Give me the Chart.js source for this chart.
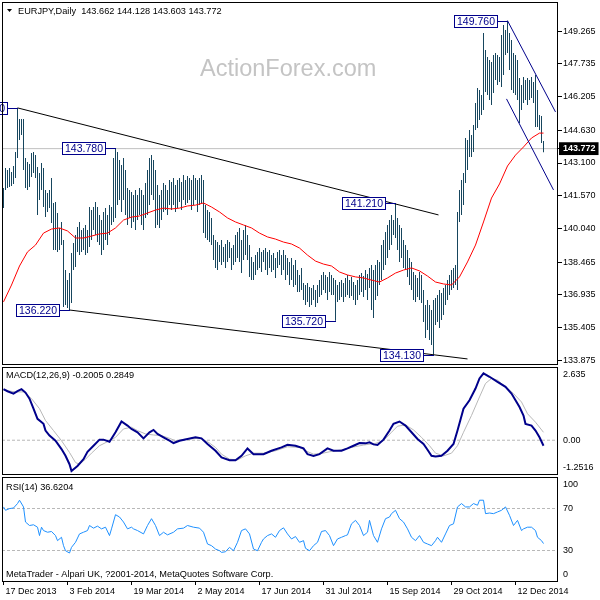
<!DOCTYPE html>
<html>
<head>
<meta charset="utf-8">
<title>EURJPY Daily</title>
<script src="https://cdn.jsdelivr.net/npm/chart.js@4.4.1/dist/chart.umd.min.js"></script>
<style>
  body { margin: 0; background: #fff; }
  #wrap { position: relative; width: 600px; height: 600px; overflow: hidden; }
  canvas { position: absolute; left: 0; }
</style>
</head>
<body>
<div id="wrap">
  <canvas id="priceChart" width="600" height="366" style="top:0"></canvas>
  <canvas id="macdChart" width="600" height="110" style="top:366px"></canvas>
  <canvas id="rsiChart" width="600" height="124" style="top:476px"></canvas>
</div>
<script>
// daily bars, one entry per bar (high / low)
const highs = [
  141.93, 142.87, 142.77, 142.87, 142.68, 142.96, 143.62, 145.68, 145.16, 145.16,
  145.16, 143.33, 143.15, 143.05, 143.57, 143.62, 143.48, 142.91, 142.63, 143.10,
  142.87, 141.84, 141.70, 141.84, 142.40, 141.23, 141.28, 140.76, 140.06, 140.34,
  139.50, 138.09, 137.63, 137.95, 138.89, 139.36, 139.73, 140.11, 140.34, 139.97,
  140.06, 140.20, 139.97, 141.04, 140.90, 141.04, 141.28, 141.04, 140.67, 140.43,
  140.81, 140.99, 140.67, 141.14, 141.04, 143.33, 143.78, 143.62, 143.24, 143.01,
  143.33, 142.77, 141.93, 141.84, 141.74, 141.60, 141.84, 141.60, 141.93, 141.84,
  141.60, 142.17, 142.77, 143.33, 143.48, 143.24, 142.77, 142.07, 141.60, 141.84,
  142.17, 142.07, 141.84, 142.31, 142.21, 142.40, 142.07, 142.31, 142.40, 142.21,
  142.54, 142.31, 142.49, 142.40, 142.31, 142.54, 142.40, 142.31, 142.40, 142.54,
  142.31, 141.14, 140.90, 140.81, 140.53, 139.73, 139.50, 139.40, 139.26, 139.50,
  139.17, 139.31, 139.50, 139.40, 139.12, 139.26, 139.73, 139.87, 140.06, 139.50,
  139.97, 140.20, 139.73, 139.26, 138.70, 138.47, 138.80, 138.94, 139.12, 138.94,
  139.03, 139.12, 138.94, 139.03, 138.80, 138.89, 138.66, 138.94, 139.03, 138.80,
  139.03, 138.80, 138.66, 138.47, 138.66, 138.33, 138.56, 138.09, 137.86, 138.19,
  137.49, 137.39, 137.49, 137.30, 137.25, 137.39, 137.16, 137.39, 137.63, 137.86,
  138.00, 137.86, 137.77, 138.00, 137.86, 137.72, 137.63, 137.39, 137.53, 137.63,
  137.49, 137.72, 137.86, 137.63, 137.77, 137.53, 137.39, 137.63, 137.86, 137.95,
  137.81, 138.09, 137.91, 138.19, 138.33, 138.09, 138.33, 138.56, 138.47, 139.26,
  139.50, 139.87, 140.20, 140.43, 140.67, 140.43, 141.21, 140.53, 140.20, 140.06,
  139.50, 139.26, 139.03, 138.66, 138.47, 138.00, 137.86, 137.72, 138.00, 137.86,
  137.16, 136.46, 136.69, 136.46, 136.22, 136.69, 136.78, 136.92, 137.16, 137.02,
  137.25, 137.39, 137.63, 137.86, 138.09, 138.19, 138.33, 140.81, 141.84, 142.31,
  142.63, 144.27, 144.18, 144.65, 144.41, 144.88, 145.91, 146.61, 146.52, 146.28,
  149.19, 148.39, 148.06, 147.92, 147.83, 148.16, 148.25, 148.16, 148.06, 149.09,
  149.56, 149.33, 149.76, 149.19, 148.86, 148.25, 148.16, 147.92, 147.08, 146.75,
  147.13, 146.99, 147.08, 146.99, 147.13, 146.89, 147.22, 146.52, 145.35, 145.30,
  144.128
];
const lows = [
  140.99, 141.84, 141.93, 141.98, 142.02, 142.12, 142.40, 143.33, 144.18, 144.41,
  142.77, 141.93, 141.84, 141.98, 142.45, 142.63, 142.40, 140.67, 141.37, 141.84,
  141.04, 140.57, 140.81, 140.99, 140.29, 139.03, 139.03, 138.94, 139.03, 139.26,
  136.36, 136.46, 136.32, 136.22, 136.55, 138.09, 138.23, 138.94, 138.80, 138.94,
  139.03, 138.80, 138.89, 139.17, 139.50, 139.97, 139.73, 139.40, 139.26, 138.80,
  139.03, 139.50, 139.26, 139.73, 140.20, 140.34, 140.53, 141.14, 141.37, 140.81,
  141.37, 140.67, 140.20, 140.53, 140.06, 140.34, 139.97, 140.43, 140.67, 140.20,
  139.97, 140.53, 140.67, 141.14, 141.60, 141.37, 140.06, 140.20, 140.06, 140.43,
  140.81, 140.90, 140.67, 141.14, 140.90, 141.14, 140.81, 140.99, 141.28, 140.90,
  141.37, 141.14, 141.23, 141.37, 140.90, 141.14, 141.37, 140.81, 141.14, 141.23,
  139.82, 139.59, 139.50, 139.40, 139.26, 138.56, 138.19, 138.09, 138.47, 138.33,
  138.47, 138.19, 138.47, 138.66, 138.09, 138.33, 138.47, 138.66, 138.47, 137.95,
  138.56, 138.80, 138.56, 137.77, 137.63, 137.63, 137.86, 138.09, 138.19, 138.00,
  138.47, 138.09, 137.86, 138.19, 138.00, 138.09, 137.72, 138.19, 138.33, 137.86,
  138.09, 137.63, 137.86, 137.39, 137.63, 137.30, 137.39, 137.06, 137.06, 137.16,
  136.69, 136.46, 136.60, 136.36, 136.46, 136.69, 136.36, 136.55, 136.83, 136.92,
  137.16, 137.02, 136.69, 137.06, 136.92, 136.92, 135.72, 136.60, 136.69, 136.83,
  136.60, 136.83, 136.92, 136.78, 136.88, 136.69, 136.46, 136.69, 136.92, 137.06,
  136.83, 137.16, 136.69, 137.25, 136.22, 135.85, 136.69, 136.88, 137.39, 137.63,
  138.09, 138.33, 138.66, 139.03, 139.26, 139.73, 139.59, 139.03, 138.47, 138.66,
  138.19, 138.09, 137.77, 137.39, 137.16, 136.69, 136.60, 136.83, 136.69, 136.55,
  135.66, 134.91, 135.29, 134.82, 134.58, 134.13, 135.52, 135.66, 135.38, 135.75,
  135.99, 136.46, 136.69, 136.92, 137.16, 137.25, 137.39, 137.16, 140.34, 140.67,
  141.14, 142.17, 142.77, 143.38, 143.38, 143.62, 144.65, 144.74, 145.11, 145.35,
  145.58, 146.42, 146.28, 146.05, 145.82, 146.38, 146.99, 146.75, 146.89, 146.66,
  147.22, 148.16, 148.25, 147.45, 146.52, 146.38, 146.28, 146.05, 144.97, 145.58,
  145.91, 146.05, 145.82, 146.05, 146.14, 145.91, 144.79, 144.79, 144.65, 144.04,
  143.603
];
const lastBar = [143.662, 144.128, 143.603, 143.772]; // open high low close

// red moving average, [bar, value]
const maLine = [
  [0, 136.60], [4, 137.39], [8, 138.28], [12, 138.94], [16, 139.26], [20, 139.82], [24, 140.01],
  [28, 140.06], [32, 139.92], [36, 139.59], [40, 139.59], [44, 139.68], [48, 139.78], [52, 139.82],
  [56, 140.06], [60, 140.43], [64, 140.57], [68, 140.62], [72, 140.76], [76, 140.90], [80, 140.99],
  [84, 140.95], [88, 140.99], [92, 141.09], [96, 141.13], [100, 141.23], [104, 141.04], [108, 140.81],
  [112, 140.53], [116, 140.34], [120, 140.20], [124, 140.06], [128, 139.82], [132, 139.64], [136, 139.54],
  [140, 139.40], [144, 139.31], [148, 139.12], [152, 138.79], [156, 138.51], [160, 138.37], [164, 138.28],
  [168, 138.00], [172, 137.86], [176, 137.77], [180, 137.72], [184, 137.62], [188, 137.53], [192, 137.72],
  [196, 137.95], [200, 138.09], [204, 138.19], [208, 138.05], [212, 137.81], [216, 137.53], [220, 137.44],
  [224, 137.39], [228, 137.77], [232, 138.47], [236, 139.26], [240, 140.34], [244, 141.46], [248, 142.12],
  [252, 142.96], [256, 143.47], [260, 143.85], [264, 144.27], [268, 144.50], [270, 144.50]
];

// MACD(12,26,9) main and signal, [bar, value]
const macdLine = [
  [0, 1.836], [2, 1.763], [5, 1.678], [7, 1.763], [9, 1.836], [11, 1.715], [13, 1.497], [15, 1.134],
  [17, 0.770], [20, 0.589], [21, 0.347], [23, 0.165], [26, -0.017], [29, -0.319], [31, -0.562],
  [33, -0.864], [34, -1.106], [37, -0.925], [40, -0.683], [42, -0.416], [45, -0.198], [48, 0.020],
  [50, 0.020], [53, -0.053], [56, 0.286], [59, 0.673], [62, 0.528], [64, 0.407], [67, 0.286],
  [70, 0.068], [73, 0.286], [75, 0.371], [77, 0.226], [80, 0.104], [83, -0.017], [85, -0.101],
  [88, -0.017], [92, 0.044], [96, 0.104], [99, 0.068], [102, -0.137], [106, -0.380], [109, -0.622],
  [113, -0.719], [116, -0.719], [119, -0.562], [122, -0.295], [125, -0.501], [130, -0.501], [134, -0.380],
  [139, -0.259], [142, -0.162], [146, -0.198], [150, -0.295], [152, -0.501], [155, -0.562], [158, -0.501],
  [162, -0.295], [165, -0.380], [169, -0.380], [172, -0.295], [175, -0.198], [178, -0.101], [181, -0.113],
  [183, -0.077], [185, -0.149], [187, -0.174], [190, 0.020], [193, 0.347], [195, 0.589], [198, 0.673],
  [201, 0.528], [204, 0.286], [207, 0.044], [210, -0.137], [212, -0.344], [214, -0.562], [216, -0.586],
  [219, -0.562], [222, -0.380], [225, -0.137], [227, 0.347], [230, 1.134], [233, 1.436], [236, 1.860],
  [238, 2.223], [240, 2.405], [243, 2.284], [247, 2.102], [251, 1.921], [254, 1.678], [256, 1.436],
  [258, 1.194], [260, 0.891], [261, 0.589], [264, 0.528], [266, 0.347], [268, 0.104], [270, -0.2005]
];
const signalLine = [
  [0, 1.800], [6, 1.739], [10, 1.739], [14, 1.497], [18, 1.134], [21, 0.710], [25, 0.347], [29, -0.017],
  [33, -0.441], [36, -0.804], [38, -0.864], [41, -0.683], [44, -0.465], [48, -0.198], [52, -0.053],
  [56, 0.104], [60, 0.407], [64, 0.468], [67, 0.347], [71, 0.226], [75, 0.189], [79, 0.165], [83, 0.068],
  [86, -0.017], [92, 0.044], [98, 0.068], [102, -0.053], [106, -0.259], [109, -0.501], [113, -0.683],
  [117, -0.707], [121, -0.562], [125, -0.465], [130, -0.465], [136, -0.380], [142, -0.235], [148, -0.259],
  [151, -0.380], [155, -0.501], [159, -0.477], [163, -0.416], [169, -0.344], [174, -0.259], [180, -0.174],
  [186, -0.113], [190, -0.017], [194, 0.286], [197, 0.504], [201, 0.552], [205, 0.371], [209, 0.104],
  [213, -0.198], [216, -0.465], [220, -0.562], [224, -0.465], [227, -0.198], [230, 0.286], [234, 0.891],
  [238, 1.557], [241, 2.042], [244, 2.223], [247, 2.163], [251, 1.921], [255, 1.678], [259, 1.376],
  [262, 0.952], [266, 0.649], [270, 0.2849]
];
const macdNow = [-0.2005, 0.2849];

// RSI(14), [bar, value]
const rsiLine = [
  [0, 71.5], [1, 68.3], [3, 69.9], [5, 70.5], [7, 74.7], [8, 77.9], [10, 71.5], [11, 57.1], [13, 53.8],
  [15, 54.5], [17, 52.2], [18, 44.2], [19, 52.2], [20, 49.0], [22, 47.4], [24, 48.1], [26, 44.2],
  [27, 39.4], [29, 42.6], [30, 34.6], [31, 29.8], [33, 27.6], [34, 33.0], [36, 37.8], [38, 45.8],
  [40, 47.4], [42, 49.0], [43, 53.8], [45, 51.3], [47, 53.2], [49, 50.6], [51, 52.2], [53, 44.2],
  [54, 50.6], [56, 64.1], [58, 61.9], [60, 57.1], [62, 50.6], [64, 52.2], [65, 50.6], [67, 49.0],
  [70, 45.8], [72, 53.8], [74, 60.3], [76, 53.8], [78, 44.2], [80, 47.4], [82, 44.9], [85, 47.4],
  [87, 50.6], [90, 51.3], [92, 53.8], [95, 52.2], [98, 51.3], [100, 47.4], [102, 36.2], [104, 34.6],
  [106, 31.4], [108, 29.8], [109, 28.2], [111, 28.8], [113, 33.0], [115, 29.8], [117, 37.8], [119, 49.0],
  [121, 50.6], [123, 45.8], [125, 31.4], [127, 29.8], [129, 37.8], [130, 41.0], [132, 44.2], [134, 45.8],
  [136, 42.6], [138, 49.0], [140, 51.6], [142, 45.8], [144, 41.0], [146, 43.3], [148, 37.8], [150, 39.4],
  [151, 32.1], [153, 29.8], [155, 34.6], [157, 37.8], [159, 48.1], [161, 49.0], [163, 44.2], [165, 34.6],
  [167, 41.0], [169, 42.6], [171, 44.2], [172, 44.9], [174, 55.4], [176, 58.7], [178, 53.8], [180, 44.2],
  [182, 47.4], [183, 58.7], [185, 44.2], [187, 37.8], [189, 50.6], [191, 60.3], [193, 61.9], [194, 65.1],
  [196, 68.3], [198, 60.3], [200, 57.1], [202, 50.6], [204, 42.6], [206, 39.4], [208, 44.2], [210, 37.8],
  [212, 36.2], [214, 34.6], [216, 39.4], [217, 42.6], [219, 37.8], [221, 45.8], [223, 53.8], [225, 55.4],
  [227, 71.5], [229, 74.7], [231, 71.5], [233, 71.5], [235, 74.7], [237, 73.1], [238, 77.9], [240, 77.9],
  [241, 65.1], [243, 65.7], [245, 65.1], [247, 66.7], [249, 68.3], [251, 71.5], [253, 63.5], [255, 53.8],
  [257, 58.7], [259, 49.0], [260, 50.6], [262, 52.2], [264, 52.2], [266, 49.0], [267, 42.6], [269, 39.4],
  [270, 36.6204]
];
const rsiNow = 36.6204;
const rsiLevels = [70, 30];

// axis ticks
const priceTicks = [133.875, 135.405, 136.935, 138.465, 140.040, 141.570, 143.100, 144.630, 146.205, 147.735, 149.265];
const macdTicks = [-1.2516, 0, 2.635];
const rsiTicks = [0, 30, 70, 100];
const dateIdx = [0, 32, 64, 96, 128, 160, 192, 224, 256];
const dateLabels = ['17 Dec 2013', '3 Feb 2014', '19 Mar 2014', '2 May 2014', '17 Jun 2014',
  '31 Jul 2014', '15 Sep 2014', '29 Oct 2014', '12 Dec 2014'];

// drawn trend lines, [bar, price]
const upperLine = [[7, 145.68], [217.5, 140.67]];
const lowerLine = [[33, 136.22], [232, 133.93]];
const channelTop = [[252, 149.76], [276, 145.49]];
const channelBottom = [[251.5, 146.10], [275, 141.84]];

// swing high / low labels
const markIdx = [7, 56, 33, 166, 196, 215, 252];
const markPrice = [145.68, 143.78, 136.22, 135.72, 141.21, 134.13, 149.76];

const FONT = '"Liberation Sans", Arial, sans-serif';
const X_MIN = -0.75, X_MAX = 277.25;
const BAR = '#17465e';
const NAVY = '#00008b';

const pts = arr => arr.map(p => ({ x: p[0], y: p[1] }));
const flat = v => [{ x: X_MIN, y: v }, { x: X_MAX, y: v }];
const isBid = c => c.tick && c.tick.value === lastBar[3];

// black frame round each panel
const frame = {
  id: 'frame',
  afterDraw(chart) {
    const { ctx, chartArea: a } = chart;
    ctx.save();
    ctx.strokeStyle = '#000';
    ctx.lineWidth = 1;
    ctx.strokeRect(a.left + 0.5, a.top + 0.5, a.right - a.left - 1, a.bottom - a.top - 1);
    ctx.restore();
  }
};

function panelText(lines) {
  return {
    id: 'panelText',
    afterDraw(chart) {
      const ctx = chart.ctx;
      ctx.save();
      ctx.fillStyle = '#000';
      ctx.font = '9.2px ' + FONT;
      ctx.textBaseline = 'middle';
      lines.forEach(l => ctx.fillText(l[0], l[1], l[2]));
      ctx.restore();
    }
  };
}

const marks = {
  id: 'marks',
  afterDatasetsDraw(chart) {
    const { ctx, scales: { x, y } } = chart;
    ctx.save();
    ctx.font = '10.5px ' + FONT;
    ctx.textAlign = 'center';
    ctx.textBaseline = 'middle';
    markIdx.forEach((idx, k) => {
      const txt = markPrice[k].toFixed(3);
      const bx = Math.floor(x.getPixelForValue(idx));
      const py = Math.round(y.getPixelForValue(markPrice[k]));
      const w = Math.round(ctx.measureText(txt).width) + 5;
      const right = bx - 10;
      const left = right - w;
      ctx.fillStyle = '#fff';
      ctx.fillRect(left, py - 6, w, 12);
      ctx.strokeStyle = NAVY;
      ctx.lineWidth = 1;
      ctx.strokeRect(left + 0.5, py - 6 + 0.5, w, 12);
      ctx.beginPath();
      ctx.moveTo(right, py + 0.5);
      ctx.lineTo(bx + 1, py + 0.5);
      ctx.stroke();
      ctx.fillStyle = NAVY;
      ctx.fillText(txt, left + w / 2 + 0.5, py + 1);
    });
    ctx.restore();
  }
};

const mainText = {
  id: 'mainText',
  beforeDatasetsDraw(chart) {
    const ctx = chart.ctx;
    ctx.save();
    ctx.fillStyle = '#c4c4c4';
    ctx.font = '23.5px ' + FONT;
    ctx.textBaseline = 'alphabetic';
    ctx.fillText('ActionForex.com', 200, 76);
    ctx.restore();
  },
  afterDraw(chart) {
    const ctx = chart.ctx;
    ctx.save();
    ctx.fillStyle = '#000';
    ctx.beginPath();
    ctx.moveTo(7, 9);
    ctx.lineTo(12, 9);
    ctx.lineTo(9.5, 12);
    ctx.closePath();
    ctx.fill();
    ctx.font = '9.2px ' + FONT;
    ctx.textBaseline = 'middle';
    ctx.fillText('EURJPY,Daily  ' + lastBar.map(v => v.toFixed(3)).join(' '), 18, 11);
    ctx.restore();
  }
};

function xAxis() {
  return { type: 'linear', min: X_MIN, max: X_MAX, offset: false, display: false };
}

function sideAxis(min, max, tickVals, fmt) {
  return {
    position: 'right', min: min, max: max,
    afterFit: s => { s.width = 42; s.paddingTop = 0; s.paddingBottom = 0; },
    afterBuildTicks: s => { s.ticks = tickVals.map(v => ({ value: v })); },
    border: { display: false },
    grid: { drawOnChartArea: false, drawTicks: false },
    ticks: {
      autoSkip: false, padding: 5, color: '#000',
      font: { family: FONT, size: 9, lineHeight: 1.6 },
      callback: v => v === max ? ['', fmt(v)] : v === min ? [fmt(v), ''] : fmt(v)
    }
  };
}

const common = {
  responsive: false,
  animation: false,
  devicePixelRatio: 1,
  events: [],
  plugins: { legend: { display: false }, tooltip: { enabled: false } }
};

// price panel
new Chart(document.getElementById('priceChart'), {
  type: 'bar',
  data: {
    datasets: [
      { type: 'line', data: pts(upperLine), borderColor: '#000', borderWidth: 1, pointRadius: 0, order: 1 },
      { type: 'line', data: pts(lowerLine), borderColor: '#000', borderWidth: 1, pointRadius: 0, order: 1 },
      { type: 'line', data: pts(channelTop), borderColor: NAVY, borderWidth: 1, pointRadius: 0, order: 1 },
      { type: 'line', data: pts(channelBottom), borderColor: NAVY, borderWidth: 1, pointRadius: 0, order: 1 },
      { type: 'line', data: pts(maLine), borderColor: '#ff0000', borderWidth: 1, pointRadius: 0, order: 2 },
      {
        type: 'bar',
        data: highs.map((h, i) => ({ x: i, y: [lows[i], h] })),
        backgroundColor: BAR, borderWidth: 0, barThickness: 1, inflateAmount: 0, order: 3
      },
      { type: 'line', data: flat(lastBar[3]), borderColor: '#c0c0c0', borderWidth: 1, pointRadius: 0, order: 4 }
    ]
  },
  options: Object.assign({}, common, {
    layout: { padding: { left: 2, top: 2, right: 0, bottom: 1 } },
    scales: {
      x: xAxis(),
      y: {
        position: 'right', min: 133.647, max: 150.635,
        afterFit: s => { s.width = 42; s.paddingTop = 0; s.paddingBottom = 0; },
        afterBuildTicks: s => {
          s.ticks = priceTicks.concat([lastBar[3]]).sort((a, b) => a - b).map(v => ({ value: v }));
        },
        border: { display: false },
        grid: { drawOnChartArea: false, drawTicks: true, tickLength: 4, tickColor: '#000' },
        ticks: {
          autoSkip: false, padding: 1,
          color: c => isBid(c) ? '#fff' : '#000',
          font: c => ({ family: FONT, size: 9, weight: isBid(c) ? 'bold' : 'normal' }),
          showLabelBackdrop: c => !!isBid(c),
          backdropColor: '#000',
          backdropPadding: { left: 4, right: 3, top: 1, bottom: 1 },
          callback: v => v.toFixed(3)
        }
      }
    }
  }),
  plugins: [mainText, marks, frame]
});

// MACD panel
new Chart(document.getElementById('macdChart'), {
  type: 'line',
  data: {
    datasets: [
      { data: pts(macdLine), borderColor: NAVY, borderWidth: 2, pointRadius: 0, order: 1 },
      { data: pts(signalLine), borderColor: '#b8b8b8', borderWidth: 1, pointRadius: 0, order: 2 },
      { data: flat(0), borderColor: '#b8b8b8', borderWidth: 1, borderDash: [3, 2], pointRadius: 0, order: 3 }
    ]
  },
  options: Object.assign({}, common, {
    layout: { padding: { left: 2, top: 1, right: 0, bottom: 1 } },
    scales: {
      x: xAxis(),
      y: sideAxis(macdTicks[0], macdTicks[2], macdTicks, v => v === 0 ? '0.00' : String(v))
    }
  }),
  plugins: [frame, panelText([['MACD(12,26,9) ' + macdNow.join(' '), 6, 9]])]
});

// RSI panel with the date axis
new Chart(document.getElementById('rsiChart'), {
  type: 'line',
  data: {
    datasets: [
      { data: pts(rsiLine), borderColor: '#1e90ff', borderWidth: 1, pointRadius: 0, order: 1 },
      { data: flat(rsiLevels[0]), borderColor: '#b8b8b8', borderWidth: 1, borderDash: [3, 2], pointRadius: 0, order: 2 },
      { data: flat(rsiLevels[1]), borderColor: '#b8b8b8', borderWidth: 1, borderDash: [3, 2], pointRadius: 0, order: 2 }
    ]
  },
  options: Object.assign({}, common, {
    layout: { padding: { left: 2, top: 1, right: 0, bottom: 0 } },
    scales: {
      x: {
        type: 'linear', min: X_MIN, max: X_MAX, offset: false, position: 'bottom',
        afterBuildTicks: s => { s.ticks = dateIdx.map(v => ({ value: v })); },
        afterFit: s => { s.height = 18; s.paddingLeft = 0; s.paddingRight = 0; },
        border: { display: false },
        grid: { drawOnChartArea: false, drawTicks: true, tickLength: 3, tickColor: '#000' },
        ticks: {
          autoSkip: false, maxRotation: 0, minRotation: 0, align: 'start', labelOffset: 2, padding: 1,
          color: '#000', font: { family: FONT, size: 9 },
          callback: v => dateLabels[dateIdx.indexOf(v)]
        }
      },
      y: sideAxis(rsiTicks[0], rsiTicks[3], rsiTicks, v => String(v))
    }
  }),
  plugins: [frame, panelText([
    ['RSI(14) ' + rsiNow.toFixed(4), 6, 11],
    ['MetaTrader - Alpari UK, ?2001-2014, MetaQuotes Software Corp.', 6, 98]
  ])]
});
</script>
</body>
</html>
